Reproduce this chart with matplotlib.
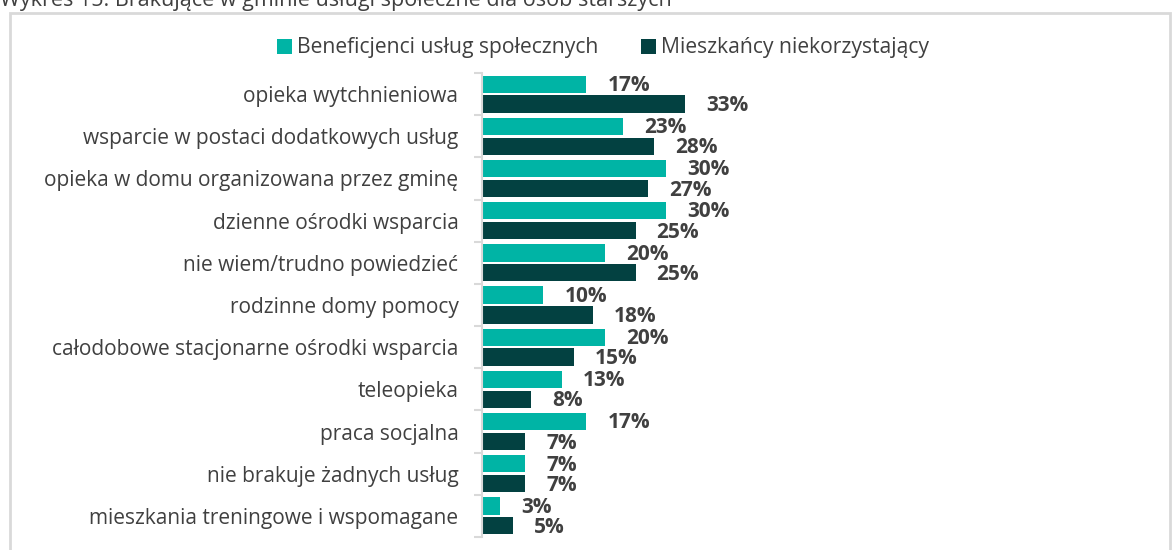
import matplotlib.pyplot as plt
import matplotlib.patches as patches
import numpy as np

# Data (percent)
categories = [
    'opieka wytchnieniowa',
    'wsparcie w postaci dodatkowych usług',
    'opieka w domu organizowana przez gminę',
    'dzienne ośrodki wsparcia',
    'nie wiem/trudno powiedzieć',
    'rodzinne domy pomocy',
    'całodobowe stacjonarne ośrodki wsparcia',
    'teleopieka',
    'praca socjalna',
    'nie brakuje żadnych usług',
    'mieszkania treningowe i wspomagane',
]
beneficjenci = [17, 23, 30, 30, 20, 10, 20, 13, 17, 7, 3]
mieszkancy = [33, 28, 27, 25, 25, 18, 15, 8, 7, 7, 5]
series_names = ['Beneficjenci usług społecznych', 'Mieszkańcy niekorzystający']

TEAL = '#00B4A5'
DARK = '#034141'
TEXT = '#404040'
GRID = '#D9D9D9'

plt.rcParams['font.family'] = ['Open Sans', 'DejaVu Sans']

W, H = 1176, 550
fig = plt.figure(figsize=(W / 100, H / 100), dpi=100)

# light grey frame around the chart
fig.patches.append(patches.Rectangle((10 / W, -0.1), 1160 / W, 1.1 - 13 / H,
                                     transform=fig.transFigure, fill=False,
                                     edgecolor=GRID, linewidth=2))

# title, cut at the top in the reference
fig.text(0.0, 1 - 6 / H, 'Wykres 15. Brakujące w gminie usługi społeczne dla osób starszych',
         fontsize=15.5, color=TEXT, va='baseline', ha='left')

ax = fig.add_axes([482 / W, 1 - 537 / H, 676 / W, 464 / H])

y = np.arange(len(categories))
h = 0.41
off = 0.235
ax.barh(y - off, beneficjenci, height=h, color=TEAL, label=series_names[0])
ax.barh(y + off, mieszkancy, height=h, color=DARK, label=series_names[1])

# value labels a little to the right of each bar
for yi, v in zip(y, beneficjenci):
    ax.annotate(f'{v}%', (v, yi - off + 0.03), xytext=(21, 0), textcoords='offset pixels',
                va='center', ha='left', fontsize=15, fontweight='bold', color=TEXT)
for yi, v in zip(y, mieszkancy):
    ax.annotate(f'{v}%', (v, yi + off + 0.04), xytext=(21, 0), textcoords='offset pixels',
                va='center', ha='left', fontsize=15, fontweight='bold', color=TEXT)

ax.set_xlim(0, 110)
ax.set_ylim(len(categories) - 0.5, -0.5)
ax.set_yticks(y)
ax.set_yticklabels(categories, fontsize=15, color=TEXT)
ax.set_yticks(np.arange(len(categories) + 1) - 0.5, minor=True)
ax.tick_params(axis='y', which='major', length=0, pad=17)
ax.tick_params(axis='y', which='minor', length=6, color=GRID, width=1.5)
ax.set_xticks([])
for side in ['top', 'right', 'bottom']:
    ax.spines[side].set_visible(False)
ax.spines['left'].set_color(GRID)
ax.spines['left'].set_linewidth(1.5)

fig.legend(handles=ax.get_legend_handles_labels()[0], labels=series_names,
           loc='center', bbox_to_anchor=(603 / W, 1 - 48 / H), ncol=2, frameon=False,
           fontsize=15.2, handlelength=0.7, handleheight=0.7, handletextpad=0.25,
           columnspacing=2.0, labelcolor=TEXT)

fig.savefig('out.png', dpi=100)
